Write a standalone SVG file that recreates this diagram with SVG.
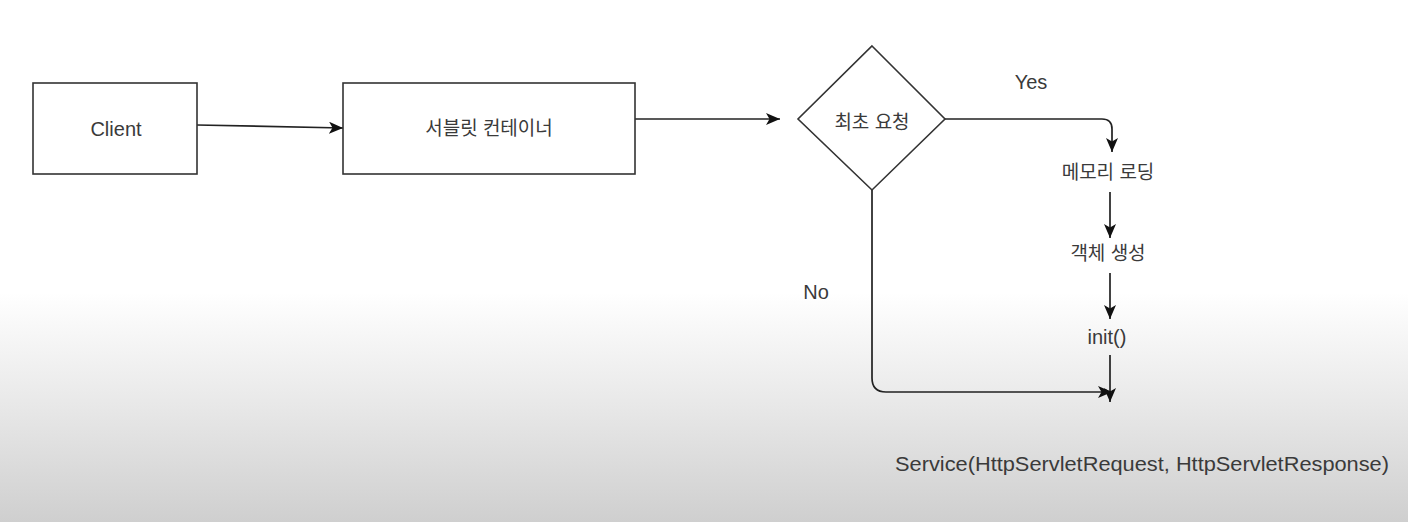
<svg xmlns="http://www.w3.org/2000/svg" width="1408" height="522" viewBox="0 0 1408 522">
<defs>
<linearGradient id="bg" x1="0" y1="0" x2="0" y2="522" gradientUnits="userSpaceOnUse">
<stop offset="0" stop-color="#ffffff"/>
<stop offset="0.56" stop-color="#ffffff"/>
<stop offset="0.75" stop-color="#ebebeb"/>
<stop offset="1" stop-color="#cfcfcf"/>
</linearGradient>
<marker id="arr" viewBox="0 0 14 12" refX="14" refY="6" markerWidth="14" markerHeight="12" markerUnits="userSpaceOnUse" orient="auto">
<path d="M0,0 L14,6 L0,12 L3.5,6 z" fill="#111"/>
</marker>
</defs>
<style>
.box{fill:#fff;stroke:#333;stroke-width:1.6}
.t{font-family:"Liberation Sans","Noto Sans CJK KR",sans-serif;fill:#3a3a3a;text-anchor:middle}
.en{font-size:20px}
.ko{font-size:19px}
.c{fill:none;stroke:#222;stroke-width:1.7}
</style>
<rect width="1408" height="522" fill="url(#bg)"/>
<g id="connectors">
<path class="c" d="M197,125 L343,128" marker-end="url(#arr)"/>
<path class="c" d="M635,119 L780,119" marker-end="url(#arr)"/>
<path class="c" d="M945,119 H1102 Q1112,119 1112,129 V152" marker-end="url(#arr)"/>
<path class="c" d="M1110,192 V238" marker-end="url(#arr)"/>
<path class="c" d="M1110,273 V319" marker-end="url(#arr)"/>
<path class="c" d="M1110,355 V402" marker-end="url(#arr)"/>
<path class="c" d="M872,190 V378 Q872,392 886,392 H1112" marker-end="url(#arr)"/>
</g>
<g id="client">
<rect class="box" x="33" y="83" width="164" height="91"/>
<text class="t en" x="116" y="136">Client</text>
</g>
<g id="container">
<rect class="box" x="343" y="83" width="292" height="91"/>
<text class="t ko" x="489" y="135">서블릿 컨테이너</text>
</g>
<g id="decision">
<polygon class="box" points="872,46 945,119 872,190 798,119"/>
<text class="t ko" x="872" y="129">최초 요청</text>
</g>
<g id="yes-label"><text class="t en" x="1031" y="89">Yes</text></g>
<g id="no-label"><text class="t en" x="816" y="299">No</text></g>
<g id="memory"><text class="t ko" x="1108" y="179">메모리 로딩</text></g>
<g id="create"><text class="t ko" x="1108" y="260">객체 생성</text></g>
<g id="init"><text class="t en" x="1107" y="344">init()</text></g>
<g id="service"><text class="t en" x="1142" y="471" textLength="494" lengthAdjust="spacingAndGlyphs">Service(HttpServletRequest, HttpServletResponse)</text></g>
</svg>
